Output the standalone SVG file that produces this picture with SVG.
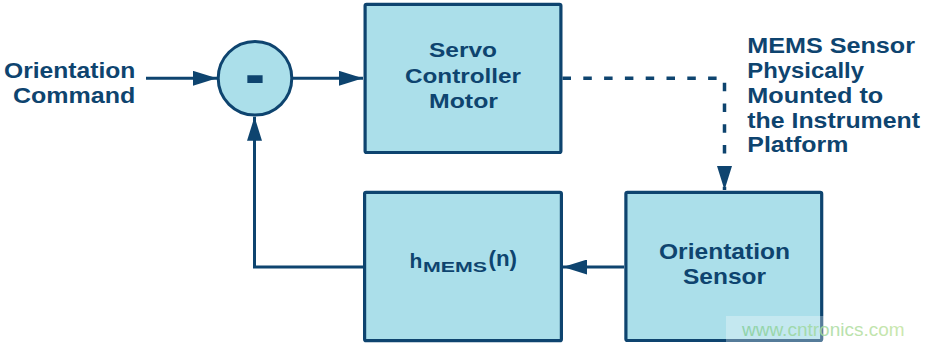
<svg xmlns="http://www.w3.org/2000/svg" width="926" height="346" viewBox="0 0 926 346">
  <style>
    .box { fill: #abdfea; stroke: #0e446f; stroke-width: 3.2; }
    .lbl { font-family: "Liberation Sans", Arial, sans-serif; font-weight: bold; font-size: 22px; fill: #0e446f; }
    .sm { font-size: 21px; }
    .wire { fill: none; stroke: #0e446f; stroke-width: 3; }
    .dash { stroke-dasharray: 8.5 12.3; stroke-width: 3.5; }
    .wm { font-family: "Liberation Sans", Arial, sans-serif; font-size: 19px; }
  </style>
  <defs>
    <marker id="ah" markerUnits="userSpaceOnUse" markerWidth="24" markerHeight="15" refX="24" refY="7.5" orient="auto">
      <path d="M0,0 L24,7.5 L0,15 Z" fill="#0e446f"/>
    </marker>
    <linearGradient id="wmg" x1="0" y1="0" x2="1" y2="0">
      <stop offset="0" stop-color="#86cf9e"/>
      <stop offset="1" stop-color="#c3e4a0"/>
    </linearGradient>
  </defs>

  <g id="input-label">
    <text class="lbl" x="4" y="78.3" textLength="131.3" lengthAdjust="spacingAndGlyphs">Orientation</text>
    <text class="lbl" x="13" y="102.7" textLength="122.3" lengthAdjust="spacingAndGlyphs">Command</text>
  </g>

  <g id="summing-junction">
    <circle cx="255" cy="78.3" r="36.8" class="box" style="stroke-width:3"/>
    <text class="lbl" x="245" y="96" style="font-size:64px" textLength="20" lengthAdjust="spacingAndGlyphs">-</text>
  </g>

  <g id="servo">
    <rect class="box" x="365.1" y="4.3" width="195.8" height="148.2" rx="1.5"/>
    <text class="lbl sm" x="429" y="57.3" textLength="68" lengthAdjust="spacingAndGlyphs">Servo</text>
    <text class="lbl sm" x="405" y="82.7" textLength="116" lengthAdjust="spacingAndGlyphs">Controller</text>
    <text class="lbl sm" x="429" y="108.3" textLength="69" lengthAdjust="spacingAndGlyphs">Motor</text>
  </g>

  <g id="mems-note">
    <text class="lbl" x="747.3" y="52.7" textLength="167.7" lengthAdjust="spacingAndGlyphs">MEMS Sensor</text>
    <text class="lbl" x="747.3" y="77.7" textLength="116.7" lengthAdjust="spacingAndGlyphs">Physically</text>
    <text class="lbl" x="747.3" y="102.7" textLength="136" lengthAdjust="spacingAndGlyphs">Mounted to</text>
    <text class="lbl" x="747.3" y="127.7" textLength="172.7" lengthAdjust="spacingAndGlyphs">the Instrument</text>
    <text class="lbl" x="747.3" y="151.7" textLength="101" lengthAdjust="spacingAndGlyphs">Platform</text>
  </g>

  <g id="hmems">
    <rect class="box" x="364.6" y="192.3" width="196.8" height="148.4" rx="1.5"/>
    <text class="lbl"><tspan x="409.5" y="268.3" style="font-size:21px">h</tspan><tspan x="423" y="271.7" style="font-size:15px" textLength="64" lengthAdjust="spacingAndGlyphs">MEMS</tspan><tspan x="488.5" y="265.5" style="font-size:22px" textLength="28.5" lengthAdjust="spacingAndGlyphs">(n)</tspan></text>
  </g>

  <g id="orientation-sensor">
    <rect class="box" x="625.9" y="192.3" width="195.8" height="148.2" rx="1.5"/>
    <text class="lbl" x="659" y="259" textLength="131" lengthAdjust="spacingAndGlyphs">Orientation</text>
    <text class="lbl" x="683" y="284" textLength="83" lengthAdjust="spacingAndGlyphs">Sensor</text>
  </g>

  <g id="connectors">
    <line class="wire" x1="146" y1="78.3" x2="217" y2="78.3" marker-end="url(#ah)"/>
    <line class="wire" x1="293" y1="78.3" x2="363" y2="78.3" marker-end="url(#ah)"/>
    <polyline class="wire" points="363,267 254.5,267 254.5,116.8" marker-end="url(#ah)"/>
    <line class="wire" x1="624" y1="267" x2="563" y2="267" marker-end="url(#ah)"/>
    <polyline class="wire dash" points="562.5,78.3 724.5,78.3 724.5,190" marker-end="url(#ah)"/>
  </g>

  <g id="watermark">
    <rect x="726" y="316" width="200" height="27" fill="#ffffff" opacity="0.3"/>
    <text class="wm" x="742" y="336" fill="url(#wmg)" opacity="0.85">www.cntronics.com</text>
  </g>
</svg>
